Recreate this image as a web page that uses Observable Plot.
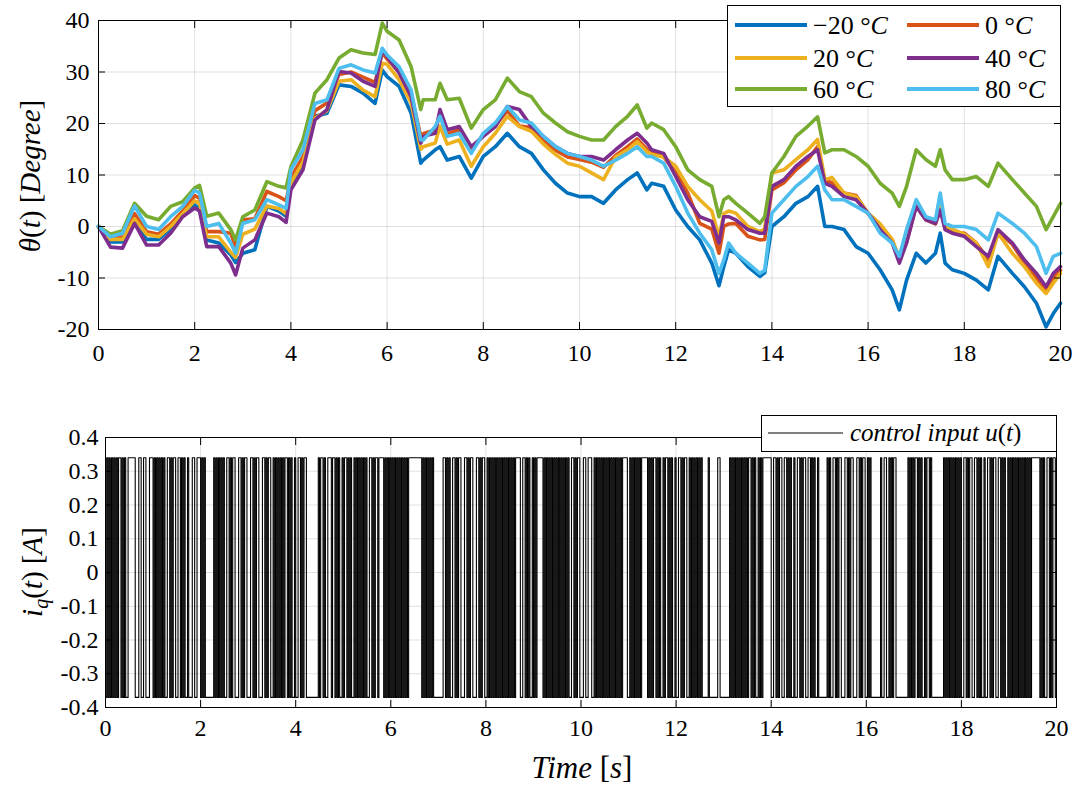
<!DOCTYPE html>
<html><head><meta charset="utf-8">
<script src="https://cdn.jsdelivr.net/npm/d3@7"></script>
<script src="https://cdn.jsdelivr.net/npm/@observablehq/plot@0.6"></script>
<style>
html,body{margin:0;padding:0;background:#fff;}
#wrap{position:relative;width:1085px;height:789px;background:#fff;overflow:hidden;font-family:"Liberation Serif",serif;}
#wrap > svg{position:absolute;}
#wrap svg, #wrap svg text{font-family:"Liberation Serif",serif !important;}
</style></head><body><div id="wrap"></div>
<script>
// ---------- data ----------
const T = [0,0.25,0.5,0.75,1,1.25,1.5,1.75,2,2.1,2.25,2.5,2.75,2.85,3,3.25,3.5,3.75,3.9,4,4.25,4.5,4.75,5,5.25,5.5,5.75,5.9,6,6.25,6.5,6.7,6.75,7,7.1,7.25,7.5,7.75,8,8.25,8.5,8.75,9,9.25,9.5,9.75,10,10.25,10.5,10.75,11,11.2,11.4,11.5,11.75,12,12.25,12.5,12.75,12.9,13,13.1,13.25,13.5,13.75,13.85,14,14.25,14.5,14.75,14.95,15.1,15.25,15.5,15.75,16,16.25,16.5,16.65,16.8,17,17.2,17.4,17.5,17.6,17.75,18,18.25,18.5,18.7,19,19.25,19.5,19.7,19.85,20];

const thetaM20 = [0,-3,-3,1,-2.5, -2.5,-0.5,2.5,4.2,3.5, -2.6,-3.2,-5.5,-7,-5.2, -4.5,3.9,3,2,8, 12,21.4,22,27.5,27.2, 25.9,23.9,30.4,29.1,27.2, 22,12.3,12.9,14.9,15.5, 12.9,13.6,9.4,13.6,15.5, 18.1,15.5,14.2,11,8.4, 6.5,5.8,5.8,4.5,7.1, 9.1,10.4,7.1,8.4,7.8, 3.2,0,-2.6,-7.1,-11.5, -7.8,-4.5,-5.2,-7.8,-9.7, -9,0,1.9,4.5,5.8, 7.8,0,0,-0.6,-3.9, -5.2,-8.4,-12.3,-16.2,-10.4, -5.2,-7.1,-5.2,-1.3,-7.1, -8.4,-9.1,-10.4,-12.3,-5.8, -9.1,-11.7,-14.9,-19.5,-16.9, -14.9];
const theta0 = [0,-2.5,-2,2.5,-1, -1.5,0.5,3,6,5.5, -1,-1,-1.3,-4,1.3, 1.5,6.8,5.8,5,9.5, 13.5,22.5,24,29.5,30, 29,28,33.8,32.5,30, 25.8,17.5,18,18.8,22, 18,18.8,14.8,17.8,19.6, 22.5,19.5,19.2,16.8,14.8, 13.5,13,12.5,11.5,13.8, 15.5,17,15,14.5,13.5, 10.5,6.5,0.6,-0.5,-5.2, 0,0.5,0.6,-1.9,-2.6, -2.5,7.1,8.5,11,13, 15.5,9,8.5,6.5,6, 2.5,0,-2.6,-6.5,-3, 4,1.3,0.5,3.5,-0.3, -1,-1.3,-3.2,-6.5,-1, -3.5,-7,-10,-12.3,-10, -8.5];
const theta20 = [0,-2.5,-2.5,1.5,-1.5, -2,0,2.5,5,4.5, -2,-2,-5,-6,-1.5, -0.5,4,3.5,2.5,8.5, 12.5,21,22.5,28.2,28.5, 26.5,25.2,31.7,31.5,28.5, 24,15,15.5,16.2,19.5, 16,16.8,11.7,15.5,18.1, 21.4,19.4,18.5,16,14, 12.3,11.7,10.4,9.1,13.5, 14.9,16.5,14.5,14,13.5, 11.7,7.8,5.2,3,-2, 2.5,3,2.6,0,-1, -0.5,10.4,11,13,14.9, 16.9,9.1,9.5,6.5,5.8, 2.6,0.5,-2.5,-6,-2.5, 4.5,1.5,0.8,4,0, -0.5,-1.5,-3.2,-7.8,-1.3, -5.2,-7.8,-11,-13,-11, -9.1];
const theta40 = [0,-4,-4.2,0.6,-3.6, -3.6,-1.3,1.9,3.6,3, -3.9,-3.9,-7.1,-9.4,-4.2, -2.6,2.6,1.9,0.8,7.1, 11,20.7,22.7,30.1,29.8, 28.2,27.2,34.3,33,29.8, 25.2,16.2,17.5,18.1,22.7, 18.8,19.4,15.5,17.5,19.4, 23.3,22.7,19.4,17.5,15.5, 14.2,13.6,13.6,12.9,14.9, 16.8,18.1,16.2,14.9,14.2, 9.7,5.2,1.9,1,-3.2, 1.9,1.9,1.3,-0.6,-1.3, -1.3,7.8,9.1,11.7,13.6, 14.9,8.4,7.8,5.8,5.2, 2.6,-0.6,-3.2,-7.1,-3.2, 3.9,1.3,0.6,3.2,-0.6, -1.3,-1.9,-3.9,-5.8,-0.6, -3.2,-6.5,-9.1,-11.7,-9.1, -7.8];
const theta60 = [0,-1.5,-0.8,4.5,2, 1.3,3.9,4.8,7.5,8, 2,2.6,-0.6,-2.6,1.9, 3.2,8.7,7.8,7.5,11.6, 16.8,25.9,28.5,32.7,34.3, 33.7,33.4,39.5,37.9,36.2, 31,22.7,24.6,24.6,27.8, 24.6,24.9,19.1,22.7,24.6, 28.8,26.2,25.2,22,20.1, 18.4,17.5,16.8,16.8,19.4, 21.4,23.6,19.1,20.1,18.8, 15.5,11,9.1,7.8,1.9, 5.2,5.8,4.5,2.6,0.6, 1.9,10.4,13.6,17.5,19.5, 21.3,14.3,14.9,14.9,13.6, 11.7,8.4,6.5,3.9,7.8, 14.9,13,11.7,14.9,11, 9.1,9.1,9.7,7.8,12.3, 9.1,6.5,3.9,-0.6,1.9, 4.5];
const theta80 = [0,-2,-1.3,4,0, -0.6,1.9,3.9,7,6.5, 0,0.6,-3.2,-5.2,0.6, 1.3,5.2,4.2,3.5,11, 14.9,23.9,24.6,30.7,31.4, 30.4,29.8,34.6,33.3,31, 26.5,16.8,16.8,19.4,21.4, 17.5,18.1,14.2,18.1,20.1, 23.3,20.7,20.1,17.5,15.5, 14.2,13.6,12.9,11.7,12.9, 14.2,15.5,13.6,13.6,12.3, 7.8,2.6,-1.3,-4.5,-9.1, -6.5,-3.2,-5.2,-7.1,-9.1, -8.5,2.6,5.2,7.8,9.7, 11.7,7.1,5.2,5.2,3.9, 2.6,-1.3,-3.2,-5.8,-0.6, 5.2,1.9,1.3,6.5,0.6, 0,0,-0.6,-2.6,2.6, 0.6,-1.3,-3.9,-9.1,-5.8, -5.2];

const seriesNames = ["−20 °C", "0 °C", "20 °C", "40 °C", "60 °C", "80 °C"];
const seriesValues = [thetaM20, theta0, theta20, theta40, theta60, theta80];
const seriesColors = ["#0072BD", "#D95319", "#EDB120", "#7E2F8E", "#77AC30", "#4DBEEE"];

const xTicks = [0,2,4,6,8,10,12,14,16,18,20];
const yTicksTop = [-20,-10,0,10,20,30,40];
const yTicksBottom = [-0.4,-0.3,-0.2,-0.1,0,0.1,0.2,0.3,0.4];

// control input: state per 0.025 s (1 = high, 0 = low), one string per second
const uHigh = 0.34, uLow = -0.37, uStep = 0.025;
const uStates = [
  "0101010101"+"0110101001"+"1111100011"+"0011000111",
  "0101010101"+"0011010110"+"0110101001"+"0001100111",
  "0101000000"+"0101010101"+"0011010110"+"0011010110",
  "0011010110"+"0011010110"+"0101010101"+"0110101001",
  "0011010110"+"0000000001"+"0110100111"+"0110101001",
  "0110101001"+"0101010101"+"0011010110"+"1111010101",
  "0101010101"+"0101011111"+"1111110101"+"0101010000",
  "0000110101"+"0011010110"+"0011010110"+"0011010110",
  "0101010101"+"0101010101"+"0101011110"+"0110101001",
  "0101111101"+"0101010101"+"0101010101"+"0011010110",
  "0011001110"+"0101010101"+"0101010101"+"0101011110",
  "0101010101"+"0111110101"+"0110101001"+"0110101001",
  "0011010110"+"0101010101"+"0100000100"+"0000011000",
  "0000010101"+"0101010101"+"0110101001"+"0101111111",
  "0011010110"+"0110101001"+"0011010110"+"0110101001",
  "0000000101"+"0011010110"+"0011010110"+"0011010110",
  "0101000000"+"0010011001"+"0101100000"+"0000010101",
  "0110101001"+"0110100000"+"0000010101"+"0101010101",
  "0011010110"+"0110101001"+"0011010110"+"0110101001",
  "0101010101"+"0101010101"+"1111110101"+"0011010110"
];

// ---------- build ----------
const FONT = "Liberation Serif";
const wrap = d3.select("#wrap");
const baseStyle = {fontFamily: "'Liberation Serif', serif", fontSize: "24px", color: "#000", background: "none", overflow: "visible"};
const gridStyle = {stroke: "#000", strokeOpacity: 0.12};

const topRows = seriesNames.flatMap((name, k) => T.map((t, i) => ({t, v: seriesValues[k][i], s: name})));

function innerTicks(xt, yt) {
  return [
    Plot.axisX(xt, {anchor: "bottom", tickSize: 7, dy: -7, fill: "none", label: null}),
    Plot.axisX(xt, {anchor: "top", tickSize: 7, dy: 7, fill: "none", label: null}),
    Plot.axisY(yt, {anchor: "left", tickSize: 7, dx: 7, fill: "none", label: null}),
    Plot.axisY(yt, {anchor: "right", tickSize: 7, dx: -7, fill: "none", label: null})
  ];
}

const topPlot = Plot.plot({
  width: 1085, height: 372,
  marginLeft: 98, marginRight: 25, marginTop: 20, marginBottom: 43,
  x: {domain: [0, 20]},
  y: {domain: [-20, 40]},
  color: {domain: seriesNames, range: seriesColors},
  style: baseStyle,
  marks: [
    Plot.gridX(xTicks, gridStyle),
    Plot.gridY(yTicksTop, gridStyle),
    Plot.line(topRows, {x: "t", y: "v", z: "s", stroke: "s", strokeWidth: 3.6, strokeLinejoin: "round", strokeLinecap: "round"}),
    Plot.axisX(xTicks, {anchor: "bottom", tickSize: 0, tickPadding: 14, label: null, fontFamily: FONT, tickFormat: d => String(d)}),
    Plot.axisY(yTicksTop, {anchor: "left", tickSize: 0, tickPadding: 9, label: null, fontFamily: FONT, tickFormat: d => String(d)}),
    ...innerTicks(xTicks, yTicksTop),
    Plot.frame({stroke: "#000", strokeWidth: 1})
  ]
});
d3.select(topPlot).style("left", "0px").style("top", "0px");
wrap.node().appendChild(topPlot);

// y label (top)
{
  const t = d3.select(topPlot).append("text")
    .attr("transform", "translate(40,176) rotate(-90)")
    .attr("text-anchor", "middle").attr("font-size", 29).attr("fill", "#000")
    .attr("font-family", FONT);
  t.append("tspan").attr("font-style", "italic").text("θ");
  t.append("tspan").text("(");
  t.append("tspan").attr("font-style", "italic").text("t");
  t.append("tspan").text(") [");
  t.append("tspan").attr("font-style", "italic").text("Degree");
  t.append("tspan").text("]");
}

// bottom panel
const uData = [];
uStates.join("").split("").forEach((c, i) => uData.push({t: i * uStep, u: c === "1" ? uHigh : uLow}));
uData.push({t: 20, u: uData[uData.length - 1].u});

const botPlot = Plot.plot({
  width: 1085, height: 399,
  marginLeft: 105, marginRight: 29, marginTop: 47, marginBottom: 82,
  x: {domain: [0, 20]},
  y: {domain: [-0.4, 0.4]},
  style: baseStyle,
  marks: [
    Plot.gridX(xTicks, gridStyle),
    Plot.gridY(yTicksBottom, gridStyle),
    Plot.line(uData, {x: "t", y: "u", curve: "step-after", stroke: "#000", strokeWidth: 1.1}),
    Plot.axisX(xTicks, {anchor: "bottom", tickSize: 0, tickPadding: 11, label: null, fontFamily: FONT, tickFormat: d => String(d)}),
    Plot.axisY(yTicksBottom, {anchor: "left", tickSize: 0, tickPadding: 7, label: null, fontFamily: FONT, tickFormat: d => Math.abs(d) < 1e-9 ? "0" : d.toFixed(1)}),
    ...innerTicks(xTicks, yTicksBottom),
    Plot.frame({stroke: "#000", strokeWidth: 1})
  ]
});
d3.select(botPlot).style("left", "0px").style("top", "390px");
wrap.node().appendChild(botPlot);

{
  const t = d3.select(botPlot).append("text")
    .attr("transform", "translate(42,182) rotate(-90)")
    .attr("text-anchor", "middle").attr("font-size", 29).attr("fill", "#000")
    .attr("font-family", FONT);
  t.append("tspan").attr("font-style", "italic").text("i");
  t.append("tspan").attr("font-style", "italic").attr("font-size", 20).attr("dy", 6).text("q");
  t.append("tspan").attr("dy", -6).text("(");
  t.append("tspan").attr("font-style", "italic").text("t");
  t.append("tspan").text(") [");
  t.append("tspan").attr("font-style", "italic").text("A");
  t.append("tspan").text("]");

  const x = d3.select(botPlot).append("text")
    .attr("x", 582).attr("y", 388)
    .attr("text-anchor", "middle").attr("font-size", 31).attr("fill", "#000")
    .attr("font-family", FONT);
  x.append("tspan").attr("font-style", "italic").text("Time");
  x.append("tspan").text(" [");
  x.append("tspan").attr("font-style", "italic").text("s");
  x.append("tspan").text("]");
}

// legend (top)
{
  const leg = wrap.append("svg").style("left", "727px").style("top", "5px")
    .attr("width", 335).attr("height", 103);
  leg.append("rect").attr("x", 0.5).attr("y", 0.5).attr("width", 333).attr("height", 101)
    .attr("fill", "#fff").attr("stroke", "#000").attr("stroke-width", 1);
  const rowsY = [20, 53, 84];
  seriesNames.forEach((name, i) => {
    const lx = (i % 2) ? 180 : 8;
    const ly = rowsY[Math.floor(i / 2)];
    leg.append("line").attr("x1", lx).attr("x2", lx + 72).attr("y1", ly).attr("y2", ly)
      .attr("stroke", seriesColors[i]).attr("stroke-width", 4);
    const tx = leg.append("text").attr("x", lx + 78).attr("y", ly + 9)
      .attr("font-family", FONT).attr("font-size", 26).attr("fill", "#000");
    tx.append("tspan").text(name.slice(0, -1));
    tx.append("tspan").attr("font-style", "italic").text("C");
  });
}

// legend (bottom)
{
  const leg = wrap.append("svg").style("left", "761px").style("top", "415px")
    .attr("width", 297).attr("height", 38);
  leg.append("rect").attr("x", 0.5).attr("y", 0.5).attr("width", 295).attr("height", 36)
    .attr("fill", "#fff").attr("stroke", "#000").attr("stroke-width", 1);
  leg.append("line").attr("x1", 7).attr("x2", 82).attr("y1", 18).attr("y2", 18)
    .attr("stroke", "#000").attr("stroke-width", 1);
  const tx = leg.append("text").attr("x", 89).attr("y", 26)
    .attr("font-family", FONT).attr("font-size", 25).attr("fill", "#000");
  tx.append("tspan").attr("font-style", "italic").text("control input u");
  tx.append("tspan").text("(");
  tx.append("tspan").attr("font-style", "italic").text("t");
  tx.append("tspan").text(")");
}
</script></body></html>
